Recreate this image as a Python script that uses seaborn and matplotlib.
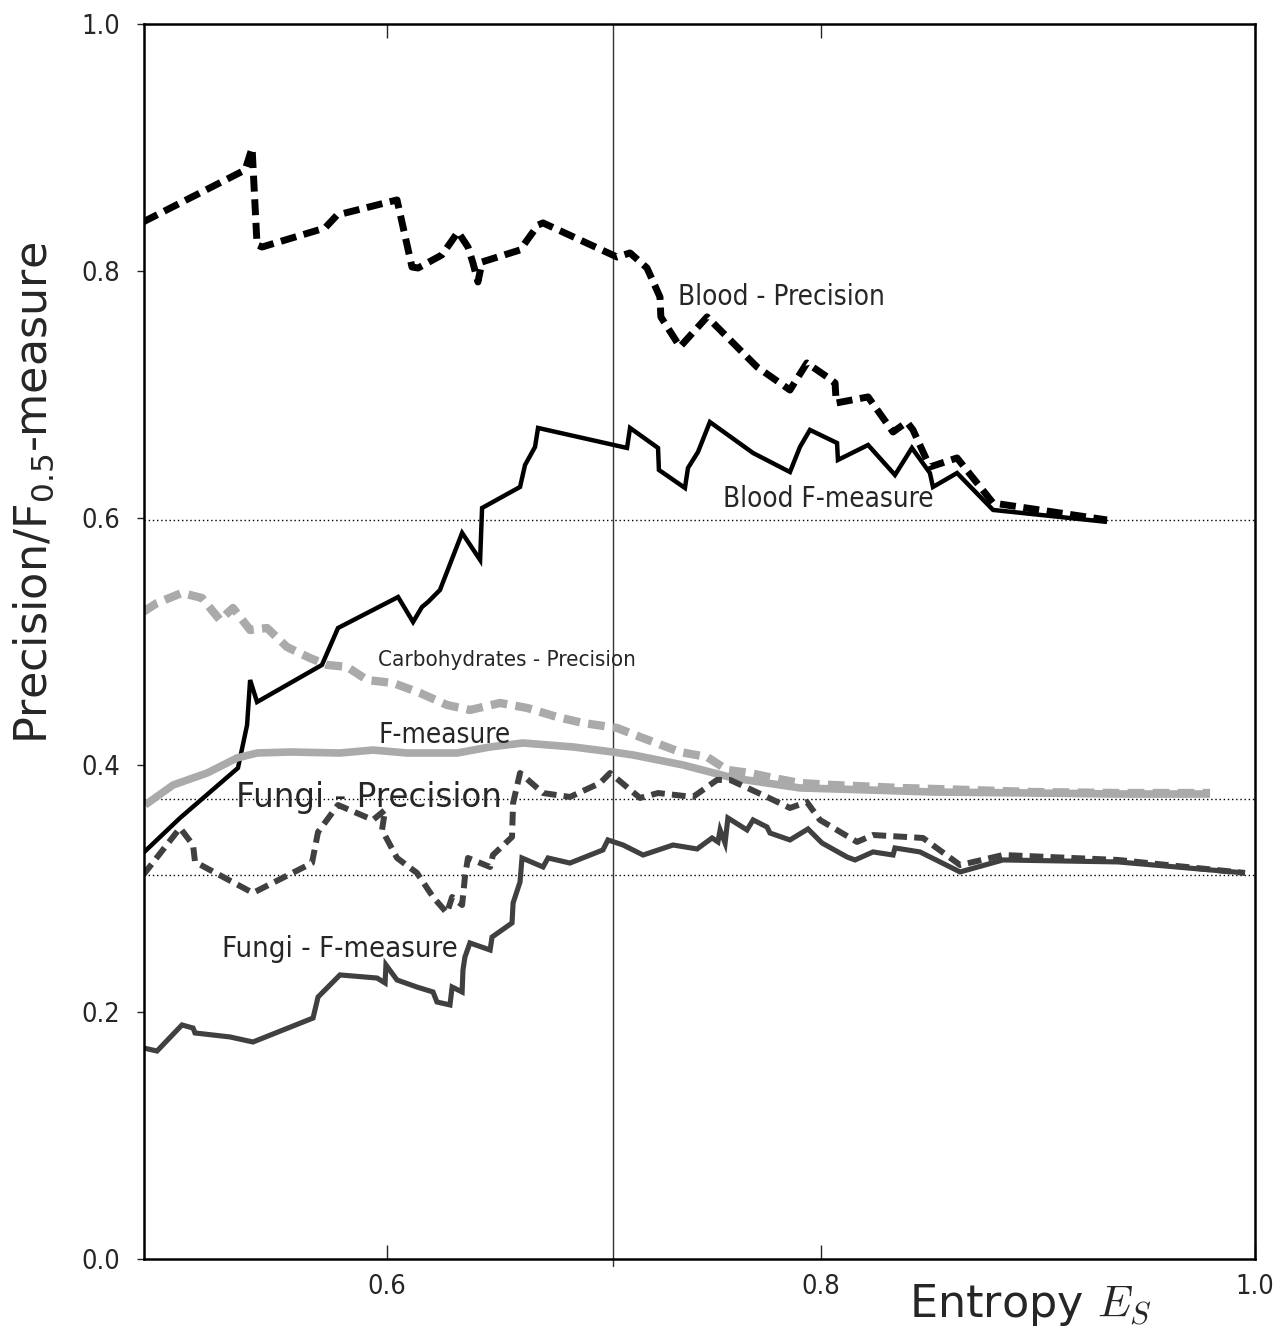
import matplotlib
matplotlib.use("Agg")
import matplotlib.pyplot as plt
import seaborn as sns
import numpy as np
import pandas as pd

# ---------------- data ----------------
blood_prec_x = [0.4876, 0.5346, 0.5378, 0.5401, 0.5424, 0.5714, 0.5770, 0.6046, 0.6115, 0.6143,
                0.6253, 0.6327, 0.6373, 0.6396, 0.6419, 0.6438, 0.6613, 0.6696, 0.6719, 0.7060,
                0.7120, 0.7198, 0.7258, 0.7262, 0.7350, 0.7475, 0.7705, 0.7857, 0.7935, 0.8028,
                0.8065, 0.8070, 0.8217, 0.8332, 0.8396, 0.8424, 0.8502, 0.8627, 0.8793, 0.9318]
blood_prec_y = [0.8397, 0.8818, 0.8996, 0.8211, 0.8194, 0.8348, 0.8453, 0.8575, 0.8032, 0.8024,
                0.8130, 0.8316, 0.8194, 0.8065, 0.7911, 0.8073, 0.8170, 0.8372, 0.8389, 0.8113,
                0.8146, 0.8024, 0.7789, 0.7628, 0.7385, 0.7628, 0.7223, 0.7036, 0.7255, 0.7142,
                0.7093, 0.6931, 0.6980, 0.6696, 0.6777, 0.6713, 0.6413, 0.6486, 0.6121, 0.5984]

blood_f_x = [0.4876, 0.5046, 0.5313, 0.5355, 0.5369, 0.5401, 0.5700, 0.5774, 0.6051, 0.6120,
             0.6161, 0.6189, 0.6244, 0.6346, 0.6429, 0.6438, 0.6613, 0.6636, 0.6682, 0.6696,
             0.7106, 0.7120, 0.7249, 0.7253, 0.7373, 0.7387, 0.7433, 0.7488, 0.7687, 0.7857,
             0.7903, 0.7949, 0.8074, 0.8078, 0.8217, 0.8341, 0.8419, 0.8502, 0.8516, 0.8627,
             0.8793, 0.9318]
blood_f_y = [0.3287, 0.3571, 0.3976, 0.4324, 0.4688, 0.4510, 0.4810, 0.5109, 0.5360, 0.5158,
             0.5279, 0.5320, 0.5417, 0.5879, 0.5660, 0.6081, 0.6251, 0.6429, 0.6575, 0.6729,
             0.6567, 0.6729, 0.6567, 0.6389, 0.6243, 0.6405, 0.6534, 0.6777, 0.6526, 0.6372,
             0.6575, 0.6713, 0.6607, 0.6470, 0.6591, 0.6348, 0.6567, 0.6364, 0.6251, 0.6364,
             0.6065, 0.5968]

carb_prec_x = [0.4876, 0.4940, 0.5055, 0.5147, 0.5230, 0.5290, 0.5369, 0.5447, 0.5539, 0.5645,
               0.5724, 0.5816, 0.5908, 0.6028, 0.6152, 0.6276, 0.6382, 0.6521, 0.6645, 0.6783,
               0.6903, 0.7060, 0.7166, 0.7350, 0.7475, 0.7567, 0.7673, 0.7779, 0.7903, 0.8055,
               0.8364, 0.8673, 0.8977, 0.9369, 0.9793]
carb_prec_y = [0.5239, 0.5312, 0.5393, 0.5352, 0.5174, 0.5271, 0.5093, 0.5109, 0.4955, 0.4866,
               0.4810, 0.4794, 0.4688, 0.4664, 0.4583, 0.4486, 0.4445, 0.4502, 0.4462, 0.4389,
               0.4340, 0.4300, 0.4227, 0.4105, 0.4065, 0.3960, 0.3935, 0.3895, 0.3854, 0.3838,
               0.3814, 0.3798, 0.3781, 0.3773, 0.3773]

carb_f_x = [0.4885, 0.5014, 0.5171, 0.5309, 0.5401, 0.5553, 0.5783, 0.5935, 0.6092, 0.6323,
            0.6475, 0.6627, 0.6857, 0.7041, 0.7134, 0.7364, 0.7594, 0.7903, 0.8212, 0.8516,
            0.8977, 0.9369, 0.9793]
carb_f_y = [0.3676, 0.3838, 0.3935, 0.4057, 0.4097, 0.4105, 0.4097, 0.4121, 0.4097, 0.4097,
            0.4146, 0.4178, 0.4146, 0.4105, 0.4081, 0.4000, 0.3895, 0.3814, 0.3798, 0.3781,
            0.3773, 0.3765, 0.3765]

fungi_prec_x = [0.4876, 0.5046, 0.5106, 0.5115, 0.5382, 0.5654, 0.5682, 0.5774, 0.5935, 0.5991,
                0.5977, 0.6046, 0.6138, 0.6212, 0.6276, 0.6300, 0.6346, 0.6359, 0.6373, 0.6475,
                0.6488, 0.6576, 0.6581, 0.6613, 0.6719, 0.6843, 0.6982, 0.7028, 0.7166, 0.7249,
                0.7410, 0.7521, 0.7581, 0.7751, 0.7857, 0.7935, 0.7995, 0.8166, 0.8240, 0.8470,
                0.8641, 0.8839, 0.9369, 0.9954]
fungi_prec_y = [0.3109, 0.3490, 0.3352, 0.3215, 0.2964, 0.3206, 0.3457, 0.3676, 0.3555, 0.3636,
                0.3474, 0.3247, 0.3126, 0.2931, 0.2802, 0.2931, 0.2866, 0.3093, 0.3247, 0.3174,
                0.3271, 0.3417, 0.3692, 0.3935, 0.3773, 0.3741, 0.3854, 0.3935, 0.3733, 0.3773,
                0.3741, 0.3879, 0.3879, 0.3741, 0.3652, 0.3700, 0.3555, 0.3377, 0.3433, 0.3409,
                0.3190, 0.3271, 0.3231, 0.3126]

fungi_f_x = [0.4876, 0.4940, 0.5055, 0.5106, 0.5115, 0.5276, 0.5382, 0.5659, 0.5682, 0.5783,
             0.5954, 0.5991, 0.5995, 0.6046, 0.6138, 0.6212, 0.6230, 0.6290, 0.6300, 0.6346,
             0.6350, 0.6359, 0.6382, 0.6475, 0.6484, 0.6576, 0.6581, 0.6613, 0.6622, 0.6719,
             0.6742, 0.6843, 0.6995, 0.7018, 0.7088, 0.7180, 0.7318, 0.7429, 0.7498, 0.7525,
             0.7535, 0.7558, 0.7571, 0.7659, 0.7687, 0.7751, 0.7765, 0.7857, 0.7940, 0.8005,
             0.8120, 0.8157, 0.8240, 0.8332, 0.8341, 0.8456, 0.8641, 0.8839, 0.9369, 0.9954]
fungi_f_y = [0.1709, 0.1684, 0.1895, 0.1870, 0.1830, 0.1798, 0.1757, 0.1951, 0.2121, 0.2300,
             0.2275, 0.2235, 0.2381, 0.2259, 0.2202, 0.2162, 0.2081, 0.2057, 0.2202, 0.2162,
             0.2340, 0.2445, 0.2559, 0.2502, 0.2607, 0.2721, 0.2883, 0.3053, 0.3247, 0.3174,
             0.3247, 0.3206, 0.3312, 0.3393, 0.3352, 0.3271, 0.3352, 0.3320, 0.3409, 0.3377,
             0.3474, 0.3368, 0.3571, 0.3474, 0.3555, 0.3498, 0.3449, 0.3393, 0.3482, 0.3368,
             0.3255, 0.3231, 0.3296, 0.3271, 0.3328, 0.3296, 0.3134, 0.3231, 0.3215, 0.3126]

ref_hlines = [0.598, 0.3725, 0.311]
ref_vline = 0.704

# text, x, y, fontsize, condensed?
annotations = [
    ("Blood - Precision", 0.734, 0.779, 20, True),
    ("Blood F-measure", 0.7548, 0.6154, 20, True),
    ("Carbohydrates - Precision", 0.5959, 0.485, 16, True),
    ("F-measure", 0.5959, 0.4243, 20, True),
    ("Fungi - F-measure", 0.524, 0.251, 21, True),
    ("Fungi - Precision", 0.5304, 0.374, 23.5, False),
]

x_ticks = [0.6, 0.8, 1.0]
y_ticks = [0.0, 0.2, 0.4, 0.6, 0.8, 1.0]

# ---------------- style ----------------
sns.set_style("white")
plt.rcParams['font.family'] = ['DejaVu Sans']
plt.rcParams['mathtext.fontset'] = 'dejavusans'

fig = plt.figure(figsize=(12.87, 13.31), dpi=100)
ax = fig.add_axes([0.1119, 0.0541, 0.8632, 0.9279])

BLACK = "#000000"
LGREY = "#aaaaaa"
DGREY = "#404040"

series = [
    (blood_prec_x, blood_prec_y, BLACK, 5.0, (0, (2.3, 1.1))),
    (blood_f_x, blood_f_y, BLACK, 3.2, "-"),
    (carb_prec_x, carb_prec_y, LGREY, 6.0, (0, (2.0, 1.0))),
    (carb_f_x, carb_f_y, LGREY, 5.5, "-"),
    (fungi_prec_x, fungi_prec_y, DGREY, 4.3, (0, (2.3, 1.2))),
    (fungi_f_x, fungi_f_y, DGREY, 3.7, "-"),
]
for xs, ys, col, lw, ls in series:
    df = pd.DataFrame({"x": xs, "y": ys})
    sns.lineplot(data=df, x="x", y="y", ax=ax, sort=False, estimator=None,
                 color=col, linewidth=lw, linestyle=ls,
                 solid_joinstyle="miter", dash_joinstyle="round",
                 dash_capstyle="butt", solid_capstyle="butt")

for h in ref_hlines:
    ax.axhline(h, color="black", lw=1.0, ls=(0, (1, 2)), zorder=1)
ax.axvline(ref_vline, ymin=-0.006, ymax=1.0, color="#333333", lw=1.0,
           clip_on=False, zorder=1)

for txt, x, y, fs, is_cond in annotations:
    ax.text(x, y, txt, fontsize=fs, va="center", ha="left", family="DejaVu Sans",
            fontstretch="condensed" if is_cond else "normal")

ax.set_xlim(0.488, 1.0)
ax.set_ylim(0.0, 1.0)
ax.set_xticks(x_ticks)
ax.set_yticks(y_ticks)
ax.set_xticklabels([f"{t:.1f}" for t in x_ticks], fontsize=19.5,
                   family="DejaVu Sans", fontstretch="condensed")
ax.set_yticklabels([f"{t:.1f}" for t in y_ticks], fontsize=19.5,
                   family="DejaVu Sans", fontstretch="condensed")
ax.tick_params(axis="x", direction="in", length=10, width=1, top=True, bottom=True, pad=11)
ax.tick_params(axis="y", direction="out", length=5, width=1, left=True, right=False, pad=12)

for s in ax.spines.values():
    s.set_visible(True)
    s.set_color("black")
    s.set_linewidth(1.8)

ax.set_ylabel("Precision/F$_{0.5}$-measure", fontsize=32)
ax.set_xlabel("Entropy $E_S$", fontsize=32, math_fontfamily="cm")
ax.xaxis.set_label_coords(0.798, -0.019)
ax.yaxis.set_label_coords(-0.079, 0.62)

fig.savefig("out.png", dpi=100)
